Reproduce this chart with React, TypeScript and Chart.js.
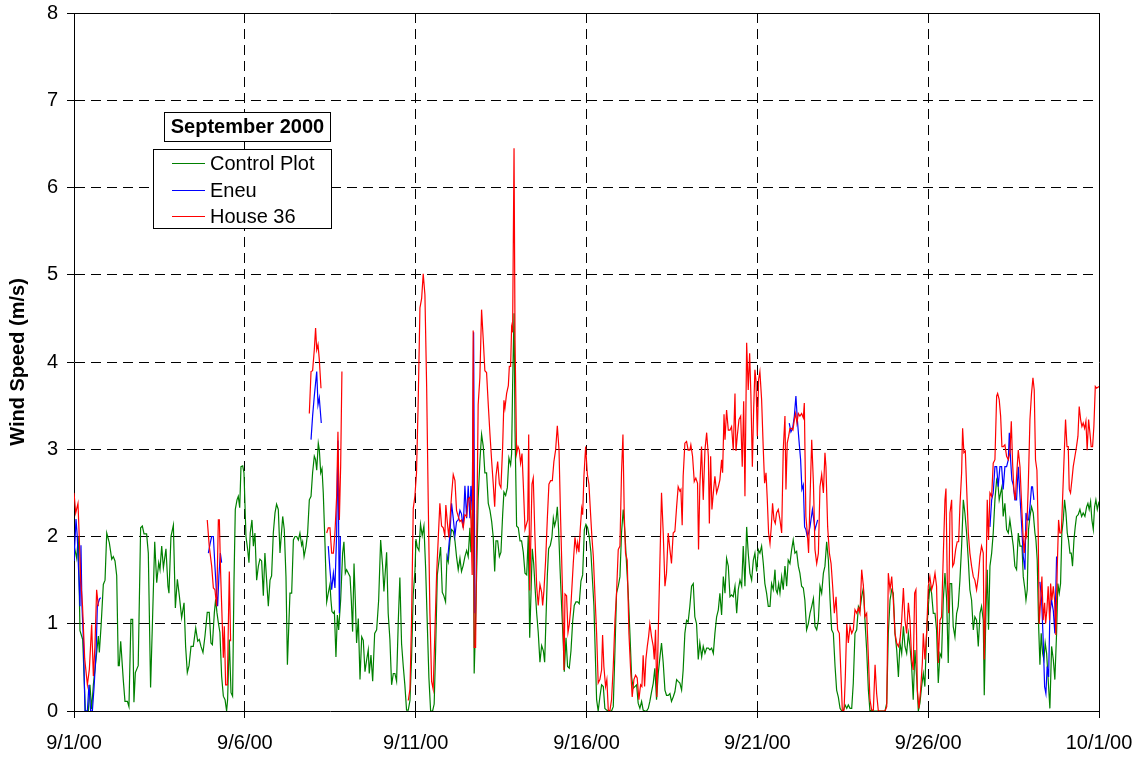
import React, { useEffect, useRef } from "react";
import { Chart, registerables } from "chart.js";

Chart.register(...registerables);

type Pt = [number, number | null];

// x values are hours since 9/1/00 00:00
const dateLabels = ["9/1/00", "9/6/00", "9/11/00", "9/16/00", "9/21/00", "9/26/00", "10/1/00"];
const yTicks = [0, 1, 2, 3, 4, 5, 6, 7, 8];
const seriesNames = ["Control Plot", "Eneu", "House 36"];
const seriesColors = ["#008000", "#0000FF", "#FF0000"];
const chartTitle = "September 2000";
const yTitle = "Wind Speed (m/s)";

const controlPlot: Pt[] = [
  [0,1.9],[1.9,1.75],[3,2.0],[4.2,0.92],[6.1,0.82],[8,0],[10.1,0],[11.2,0.3],[12.4,0.02],[13.6,0.3],[15.5,0.6],[17.1,0.86],[17.8,0.67],[19,0.97],[20.6,1.45],[21.8,1.5],[23,2.04],[24.8,1.93],[26.5,1.74],[27.6,1.77],[28.8,1.72],[30,1.55],[31.1,0.52],[31.8,0.52],[32.8,0.8],[34.6,0.36],[35.8,0.11],[37.5,0.11],[38.6,0.05],[40,1.05],[41.2,1.05],[42.1,0.1],[43.1,0.44],[45.1,0.52],[46.8,2.1],[48,2.12],[49.2,2.03],[51,2.03],[52.2,1.81],[53.8,0.27],[55.3,1.13],[56.7,1.94],[58.1,1.47],[59.5,1.7],[60.4,1.62],[61.6,1.89],[62.8,1.64],[64.6,1.86],[66,1.43],[66.7,1.35],[68.1,2.0],[69.8,2.13],[71.2,1.18],[72.6,1.51],[74,1.32],
  [75.6,1.07],[77.3,1.24],[78.4,0.74],[79.6,0.44],[80.8,0.52],[82.2,0.74],[83.8,0.74],[85.5,0.95],[86.9,0.8],[88,0.82],[89.2,0.74],[90.6,0.67],[92,0.86],[93.6,1.13],[95,1.13],[96.2,0.78],[97.2,0.76],[98.6,1.13],[99.5,1.28],[100.4,1.13],[101.4,1.01],[102.5,0.9],[103.7,0.4],[104.9,0.17],[106.1,0.13],[107.2,0],[107.9,0.13],[109.1,0.82],[110.3,0.21],[111.4,0.17],[112.4,1.5],[113.3,2.31],[114.5,2.42],[115.4,2.46],[116.4,2.33],[117.3,2.8],[118.5,2.81],[119.4,2.73],[120.8,2.0],[122,1.85],[122.9,1.7],[123.8,2.04],[125,2.19],[126,1.89],[127.1,2.04],[128.3,1.5],[129.5,1.66],[130.6,1.74],[131.8,1.72],[133,1.32],[134.1,1.81],[135.3,1.5],[136.5,1.2],[137.7,1.5],[138.8,1.55],[140,2.04],[141.2,2.27],[142.3,2.37],[143.5,2.31],[144.7,1.81],
  [146.6,2.23],[147.7,2.08],[148.9,1.54],[149.9,0.53],[151.7,1.35],[152.9,1.35],[154.1,1.96],[155.2,2.0],[156.4,2.0],[157.6,1.96],[158.7,2.04],[159.9,1.9],[160.6,1.94],[161.6,1.77],[163,1.89],[164.1,2.04],[165.3,2.42],[166.5,2.46],[167.6,2.73],[168.8,2.92],[169.7,2.88],[170.5,2.76],[171.6,3.07],[172.3,3.0],[173.3,2.73],[174.2,2.78],[175.1,2.5],[176.3,1.92],[177.5,1.25],[178.6,1.35],[179.8,1.45],[180.5,1.27],[181.2,1.14],[182.2,1.12],[182.9,1.14],[184,0.62],[185,1.1],[185.9,0.93],[187.3,1.27],[188.7,1.81],[189.6,1.94],[190.6,1.58],[191.5,1.62],[192.7,1.58],[193.9,1.54],[194.8,1.27],[195.7,0.91],[196.7,1.69],[197.6,1.27],[198.5,0.78],[199.7,1.06],[200.9,0.36],[202.1,0.85],[203.2,0.81],[204.4,0.45],[205.6,0.59],[206.7,0.7],[207.4,0.43],[208.6,0.64],[209.8,0.34],[211.2,0.89],[212.6,0.93],[214,1.27],[215.4,1.96],[216.8,1.66],[217.7,1.37],
  [219.6,1.82],[220.7,1.12],[221.9,0.82],[223.1,0.3],[224.3,0.43],[225.4,0.43],[226.6,0.34],[227.8,1.03],[228.9,1.53],[230.1,0.77],[231.3,0.51],[232.4,0.3],[233.6,0.01],[234.8,0.01],[236,0.12],[237.1,0.6],[238.3,1.34],[239.5,1.6],[240.2,1.97],[241.1,1.88],[242.3,1.84],[243.4,2.14],[244.6,2.01],[245.8,2.12],[247,1.64],[248.1,1.03],[249.3,0.38],[250.5,0],[251.9,0],[253,0.08],[254,0.69],[255.2,1.56],[256.3,1.71],[257.5,1.88],[258.7,1.36],[259.8,1.32],[261,1.25],[262,1.77],[262.9,1.71],[264.1,1.95],[265.2,2.08],[266.4,2.06],[267.6,1.95],[268.7,1.77],[269.9,1.62],[271.1,1.75],[272.2,1.6],[273.4,1.67],[274.6,1.77],[275.8,1.84],[276.9,1.77],[278.1,2.1],[278.8,1.82],[279.7,2.25],[280.4,2.86],[281.1,0.43],[281.8,0.84],[282.8,1.56],[283.9,2.43],[285.1,2.86],[286.3,3.17],[287.5,3.03],[288.6,2.73],[289.8,2.73],[291,2.38],
  [292.2,2.3],[293.4,2.17],[294.5,1.99],[295.5,1.6],[296.4,1.95],[297.6,1.95],[298.8,1.77],[299.9,1.82],[301.1,2.25],[302,2.51],[303.2,2.47],[304.4,2.56],[305.5,2.9],[306.7,2.82],[307.4,2.95],[308.1,3.73],[309.1,4.56],[309.8,3.21],[310.9,2.12],[312.1,2.1],[313.3,1.95],[314.4,1.95],[315.6,1.82],[316.8,1.58],[318,1.56],[319.1,2.01],[320.1,0.84],[321,1.34],[321.9,1.86],[322.9,1.69],[324,1.38],[325,1.12],[326.1,0.9],[327.3,0.56],[328.5,0.75],[329.7,0.69],[330.6,0.56],[331.5,1.03],[332.5,1.56],[333.4,1.86],[334.6,1.9],[335.7,1.99],[336.7,2.21],[337.6,2.12],[338.6,2.19],[339.5,2.34],[340.4,2.08],[341.4,1.64],[342.5,1.21],[343.7,0.77],[344.4,0.45],[345.6,0.84],[346.7,0.51],[347.9,0.49],[349.1,0.69],[350.3,1.03],[351.4,1.21],[352.6,1.25],[353.8,1.25],[354.9,1.23],[356.1,1.49],[357.3,1.56],[358.5,2.08],[359.6,2.14],[360.8,2.1],[362,1.99],[363.1,1.82],[364.3,1.47],[365.2,1.21],
  [367.1,0.13],[368.2,0],[369.4,0.16],[370.6,0.3],[371.8,0.28],[372.9,0.03],[374.1,0.01],[375.3,0],[376.4,0],[377.6,0],[378.8,0.05],[380,0.7],[381.1,1.35],[382.3,1.43],[383.5,1.54],[384.6,2.04],[385.8,2.31],[387,2.04],[388.1,1.69],[389.3,1.35],[390.5,0.89],[391.7,0.39],[392.8,0.26],[394,0.28],[395.2,0.3],[396.3,0.09],[397.5,0.03],[398.7,0.11],[399.8,0.01],[401,0],[402.2,0],[403.4,0.03],[404.5,0.11],[405.7,0.22],[406.9,0.32],[408,0.49],[409.2,0.13],[410.4,0.43],[411.6,0.62],[412.7,0.78],[413.9,0.55],[415.1,0.24],[416.2,0.18],[417.4,0.18],[418.6,0.2],[419.7,0.11],[420.9,0.16],[422.1,0.22],[423.3,0.36],[424.4,0.34],[425.6,0.32],[426.8,0.24],[427.9,0.47],[429.1,0.89],[430.3,1.04],[431.4,1.02],[432.6,1.2],[433.8,1.43],[435,1.46],[436.1,1.08],[437.3,1.0],[438.5,0.59],[439.6,0.78],
  [440.9,0.62],[442,0.74],[443.2,0.66],[444.4,0.72],[445.6,0.72],[446.7,0.7],[447.9,0.72],[449.1,0.66],[450.2,0.89],[451.4,1.08],[452.6,1.16],[453.7,1.35],[454.9,1.1],[456.1,1.54],[457.3,1.35],[458.4,1.75],[459.6,1.66],[460.8,1.31],[461.9,1.33],[463.1,1.31],[464.3,1.43],[465.5,1.12],[466.6,1.39],[467.8,1.5],[469,1.43],[470.1,1.89],[471.3,1.43],[472.5,2.11],[473.6,1.81],[474.8,1.58],[476,1.5],[477.2,1.73],[478.3,1.81],[479.5,1.6],[480.7,1.85],[481.8,1.81],[483,1.89],[484.2,1.69],[485.3,1.46],[486.5,1.35],[487.7,1.2],[488.9,1.2],[490,1.46],[491.2,1.39],[492.4,1.62],[493.1,1.39],[494,1.35],[495,1.46],[495.9,1.35],[497.1,1.54],[498.2,1.39],[499.4,1.66],[500.6,1.43],[501.7,1.73],[502.9,1.69],[504.1,1.85],[505.2,1.96],[506.4,1.81],[507.6,1.83],[508.8,1.66],[509.9,1.58],[511.1,1.43],[512.3,1.41],[513.4,1.27],[514.6,0.93],[515.8,1.0],
  [517,1.12],[518.2,1.2],[519.4,1.29],[520.5,0.97],[521.7,0.93],[522.9,1.04],[524,1.43],[525.2,1.35],[526.4,1.58],[527.5,1.66],[528.7,1.94],[529.9,1.73],[531.1,1.27],[532.2,0.93],[533.4,0.89],[534.6,0.51],[535.7,0.24],[536.9,0.16],[538.1,0.03],[539.3,0],[540.4,0],[541.6,0.07],[542.8,0.03],[543.9,0.07],[545.1,0.03],[546.3,0.03],[547.4,0.32],[548.6,0.89],[549.8,0.93],[551,1.2],[552.1,1.16],[553.3,1.31],[554.5,1.41],[555.6,1.04],[556.8,0.7],[558,0.24],[559.1,0],[560.3,0.01],[561.5,0],[565,0],[569.7,0],[570.9,0.09],[572,0.89],[573.2,1.27],[574.4,1.39],[575.5,1.35],[576.7,0.89],[577.9,0.7],[579.1,0.39],[580.2,0.78],[581.4,0.66],[582.6,0.97],[583.7,0.74],[584.9,0.66],[586.1,0.89],[587.2,0.74],[588.4,0.51],
  [589.5,0.13],[590.7,0.7],[591.9,0.39],[593.1,0],[594.2,0.09],[595.4,0.28],[596.6,0.43],[597.7,0.28],[598.9,0.89],[600.1,1.2],[601.2,1.43],[602.4,1.35],[603.6,1.12],[604.8,1.12],[605.9,0.93],[607.1,0.32],[608.3,0.66],[609.4,0.62],[610.6,1.27],[611.8,1.58],[613,1.27],[614.1,0.55],[615.3,1.46],[616.5,1.46],[617.6,0.97],[618.8,0.85],[620,1.12],[621.1,1.2],[622.3,1.5],[623.5,1.89],[624.7,2.42],[625.8,2.27],[627,2.04],[628.2,1.73],[629.3,1.39],[630.5,1.27],[631.7,0.93],[632.8,1.08],[634,1.04],[635.2,0.74],[636.4,1.12],[637.5,1.2],[638.7,1.04],[639.4,0.18],[640.6,1.16],[641.5,1.62],[642.4,0.93],[643.4,1.66],[644.6,1.81],[645.7,2.04],[646.9,2.42],[648.1,2.65],[649,2.61],[649.9,2.42],[650.9,2.5],[651.8,2.57],[652.7,2.23],[653.9,2.38],[655.1,2.08],[656.3,2.04],[657.4,2.19],[658.6,2.04],[659.8,1.89],[660.9,1.66],[662.1,1.62],[663.3,2.04],[664.5,1.89],
  [665.9,1.89],[666.8,1.54],[668,1.39],[668.7,1.27],[669.6,1.39],[670.5,2.08],[671.5,2.23],[672.6,2.34],[673.8,2.27],[675,2.04],[675.7,1.96],[676.6,1.73],[677.6,0.97],[678.5,0.53],[679.4,0.89],[680.4,0.66],[681.3,0.59],[682.2,0.78],[683.2,0.66],[684.3,0.36],[685.5,0.03],[686.7,0.74],[687.9,0.59],[689,0.36],[690.2,0.89],[691.1,1.46],[692.1,1.35],[693,1.46],[693.9,2.04],[694.9,2.19],[695.8,2.42],[696.8,2.27],[697.7,2.04],[698.6,1.96],[699.6,1.81],[700.5,1.81],[701.4,1.66],[702.4,1.96],[703.3,2.11],[704.2,2.23],[705.4,2.25],[706.6,2.31],[707.8,2.23],[708.9,2.27],[710.1,2.23],[711.3,2.34],[712.2,2.38],[713.1,2.31],[714.1,2.4],[715,2.19],[716,2.08],[716.9,2.34],[717.8,2.42],[718.8,2.31],[720,2.4]
];

const eneu: Pt[] = [
  [0,1.72],[1.4,2.2],[2.3,2.0],[3.5,1.5],[4.2,1.2],[4.9,1.9],[5.6,1.2],[6.6,0.82],[7.7,0],[9.4,0],[10.5,0.3],[11.7,0],[12.9,0],[14,0.25],[15.5,0.67],[16.4,1.2],[17.8,1.28],[18.7,1.3],
  [50,null],
  [94.4,1.81],[95.5,1.91],[96.7,2.0],[97.9,2.0],[99,1.66],[100.2,1.32],[100.9,1.2],[101.8,1.55],[102.8,1.81],[103.7,1.7],
  [130,null],
  [166.5,3.11],[167.6,3.38],[168.8,3.61],[170.5,3.89],[171.4,3.51],[172.3,3.59],[173.7,3.3],
  [176,null],
  [178.6,1.89],[179.8,1.62],[181,1.39],[182.2,1.58],[183.3,1.41],[184.5,2.04],[185.4,3.1],[186.4,1.12],[187.1,2.0],
  [220,null],
  [262.4,1.73],[264.1,2.03],[265.2,2.38],[266.4,2.21],[267.6,2.01],[268.7,2.17],[269.9,2.19],[271.1,2.3],[272.2,2.26],[273.4,2.1],[274.6,2.58],[275.8,2.21],[276.9,2.58],[278.1,2.21],[278.8,2.58],[279.7,2.3],[280.7,4.34],[281.6,1.12],
  [400,null],
  [502.4,3.3],[503.6,3.2],[504.8,3.24],[506,3.38],[507.1,3.61],[508.1,3.34],[509.2,3.11],[510.4,2.88],[511.3,2.54],[512.3,2.59],[513.2,2.11],[514.1,2.08],[515.1,2.0],[516,2.04],[517,2.11],[518.7,2.31],[520.5,2.08],[522.4,2.19],
  [600,null],
  [643.4,2.11],[644.6,2.42],[645.7,2.5],[646.9,2.8],[648.1,2.8],[649.2,2.57],[650.4,2.8],[651.6,2.8],[652.7,2.54],[653.9,2.8],[655.1,2.8],[656.3,2.88],[657,3.19],[657.9,2.88],[658.8,2.65],[659.8,2.59],[660.9,2.42],[662.1,2.42],[663.3,2.8],[665.6,2.15],[666.8,1.77],[668,1.62],[668.7,2.27],[669.6,2.19],[670.5,2.19],[671.5,2.34],[672.6,2.57],[673.3,2.57],[674.3,2.42],
  [676,null],
  [678.5,1.48],[679.7,1.27],[680.8,0.81],[681.8,0.28],[682.7,0.2],[683.6,0.51],[684.6,0.39],[685.5,1.12],[686.7,1.27],[687.9,1.15],[689,0.89],[690.2,1.77]
];

const house36: Pt[] = [
  [0,2.5],[1.2,2.27],[2.8,2.38],[3.5,2.08],[4.7,1.5],[6,1.2],[7.5,0.6],[9.4,0.3],[10.8,0.48],[12.4,0.99],[13.6,0.4],[14.7,0.74],[15.9,1.39],[17.1,1.2],
  [50,null],
  [93.6,2.19],[95,1.89],[96.7,1.66],[97.9,1.41],[99,1.39],[100.2,1.2],[101.4,2.19],[102.1,2.19],[103,1.58],[104.2,0.97],[104.9,0.61],[105.6,0.97],[106.5,0.3],[107.7,0.3],[108.4,0.97],[109.1,1.6],[110,0.8],
  [130,null],
  [165.3,3.41],[166.5,3.89],[167.6,3.9],[168.8,4.14],[169.7,4.39],[170.5,4.14],[171.4,4.2],[172.3,4.03],[173.5,3.7],
  [175,null],
  [177.5,2.04],[178.6,2.1],[179.8,2.1],[181,1.81],[182.2,1.81],[183.3,2.04],[184.5,2.46],[185.4,3.2],[186.4,2.19],[187.3,2.8],[188.2,3.89],
  [210,null],
  [234.8,0.12],[236,0.25],[237.1,1.03],[238.3,2.32],[239.5,2.47],[240.6,2.73],[241.8,3.56],[243,4.62],[244.2,4.73],[245.3,5.01],[246.5,4.77],[247.7,3.73],[248.8,2.43],[250,1.12],[251.2,0.34],[252.3,0.25],[253.5,0.9],[254.7,1.56],[255.9,1.99],[257,2.38],[258.2,2.12],[259.4,2.1],[260.5,2.01],[261.2,2.36],[262.2,2.17],[263.3,1.99],[264,2.17],[265.2,2.47],[266.4,2.71],[267.6,2.64],[268.7,2.3],[269.9,2.23],[271.1,2.17],[272.2,2.19],[273.4,2.1],[274.6,2.25],[275.8,2.23],[276.9,2.43],[278.1,2.45],[278.8,2.2],[279.7,1.56],[280.4,4.36],[281.1,0.73],[282.1,0.73],[283,2.17],[283.9,3.51],[285.1,3.82],[286.3,4.6],[287.5,4.25],[288.6,3.9],[289.8,3.88],[291,3.51],
  [292.2,3.17],[293.4,2.86],[294.5,2.6],[295.5,2.34],[296.4,2.69],[297.6,2.86],[298.8,2.6],[299.9,2.56],[301.1,3.03],[302,3.56],[302.7,3.47],[303.9,3.64],[305.1,3.73],[305.8,3.95],[306.7,3.95],[307.4,4.4],[308.1,4.34],[309.1,6.45],[309.8,4.25],[310.9,2.95],[311.9,3.03],[312.8,2.99],[313.7,2.84],[314.7,2.95],[315.6,2.6],[316.8,2.08],[317.5,2.08],[318.7,2.19],[319.4,3.17],[320.1,1.38],[320.8,1.9],[321.7,2.6],[322.6,2.67],[323.8,1.99],[325,1.43],[326.1,1.21],[327.3,1.45],[328.5,1.36],[329.2,1.21],[330.1,1.38],[331.3,1.73],[332.5,2.21],[333.6,2.6],[334.8,2.64],[336,2.64],[337.1,2.86],[338.3,2.99],[339.5,3.27],[340.7,2.99],[341.8,2.21],[343.2,1.34],[344.2,0.47],[344.9,1.34],[346,1.32],[347,0.9],[347.9,0.99],[348.9,1.17],[349.8,1.43],[350.7,1.69],[351.9,1.99],[353.1,1.84],[353.8,1.93],[354.7,1.82],[355.6,2.08],[356.6,2.32],[357.3,2.25],[358.2,2.69],[359.4,3.03],[360.6,2.71],[361.7,2.6],[362.9,2.25],[363.8,1.99],[364.8,1.77],[365.9,1.34],
  [367.1,0.89],[368.2,0.32],[369.4,0.36],[370.6,0.47],[371.3,0.87],[372.2,0.51],[373.4,0.28],[374.3,0.36],[375.3,0.01],[376.4,0],[377.6,0.13],[378.8,0.51],[380,1.04],[381.1,1.35],[382.3,1.85],[383.5,1.89],[384.6,2.73],[385.6,3.17],[386.5,2.27],[387.4,1.81],[388.6,1.73],[389.8,0.89],[391,0.47],[392.1,0.16],[393.3,0.36],[394.5,0.41],[395.6,0.38],[396.8,0.13],[398,0.3],[398.9,0.28],[399.8,0.64],[400.8,0.28],[401.7,0.59],[402.7,0.74],[403.6,0.85],[404.5,1.0],[405.7,0.85],[406.9,0.74],[407.6,0.59],[408.5,0.93],[409.4,0.16],[410.4,0.89],[411.6,1.73],[412.7,2.5],[413.9,2.04],[415.1,1.43],[416.2,1.58],[417.4,2.04],[418.6,1.85],[419.7,1.69],[420.9,2.04],[422.1,2.06],[423.3,2.34],[424.4,2.57],[425.6,2.52],[426.3,2.54],[427.2,2.13],[427.9,2.69],[429.1,3.07],[430.3,3.09],[431.4,2.99],[432.6,2.99],[433.3,3.05],[434.5,2.92],[435.7,2.63],[436.8,2.67],[438,2.61],[438.7,1.85],[439.6,2.57],[440.8,3.03],[442,2.42],
  [443.2,2.99],[444.4,3.19],[445.6,2.92],[446.3,2.15],[447.2,2.92],[448.1,2.31],[449.1,2.5],[450.2,2.69],[451.4,2.5],[452.6,2.57],[453.7,2.65],[454.9,2.88],[455.6,2.73],[456.6,3.4],[457.3,3.11],[458.4,3.45],[459.6,3.22],[460.8,3.22],[461.9,3.26],[463.1,2.99],[464.3,3.64],[465,2.98],[465.9,3.15],[467.1,3.34],[468.3,3.38],[469.4,2.8],[470.4,3.55],[471.3,2.46],[472.5,4.22],[473.6,3.68],[474.6,4.1],[475.5,3.61],[476.5,2.8],[477.4,3.45],[478.3,3.91],[479,3.8],[480,3.15],[480.9,3.8],[481.8,3.89],[483,3.57],[484.2,2.99],[485.1,2.61],[486.1,2.73],[487,2.42],[487.9,2.04],[488.9,1.92],[489.8,2.11],[490.7,2.38],[491.7,2.19],[492.6,2.15],[493.5,2.27],[494.7,2.31],[495.9,2.19],[497.1,2.04],[498.2,2.99],[499.4,3.38],[500.1,2.54],[501,3.07],[502,3.15],[502.9,3.24],[504.1,3.24],[505,3.22],[506,3.34],[506.9,3.41],[507.8,3.3],[508.8,3.41],[509.9,3.38],[511.1,3.41],[512.3,3.36],[513,3.53],[514.1,2.23],[515.1,2.04],[516,1.81],
  [517,2.42],[518.2,3.11],[519.4,2.61],[520.5,1.85],[521.7,1.69],[522.9,1.81],[524,2.57],[525.2,2.71],[526.4,2.5],[527.5,2.96],[528.2,2.8],[529.4,2.11],[530.6,1.81],[531.8,1.69],[532.9,1.43],[534.1,1.12],[535.3,1.31],[536.4,0.93],[537.6,0.89],[538.8,0.39],[539.7,0],[540.9,0.01],[541.8,0.39],[542.8,1.0],[543.9,0.78],[545.1,0.97],[546.3,0.89],[547.4,0.93],[548.6,1.16],[549.8,1.12],[551,1.18],[552.1,1.12],[553.3,1.62],[554.5,1.43],[555.6,1.08],[556.8,1.12],[558,0.62],[559.1,0.13],[560.3,0.01],[561.5,0.01],[562.7,0.53],[563.8,0.2],[565,0],[567.3,0],[569.7,0],[570.9,0.05],[572,1.58],[573.2,1.39],[574.4,1.54],[575.5,1.27],[576.7,0.89],[577.9,0.78],[579.1,0.74],[580.2,0.81],[581.4,1.04],[582.6,1.41],[583.7,1.04],[584.9,0.89],[586.1,1.24],[587.2,1.04],[588.4,0.59],
  [589.5,0.47],[590.5,1.35],[591.4,1.39],[592.4,0.24],[593.5,0.03],[594.7,0.24],[595.9,0.55],[596.6,0.89],[597.7,0.59],[598.9,0.89],[600.1,1.43],[601.2,1.54],[602.4,1.39],[603.6,1.46],[604.8,1.58],[605.9,1.43],[607.1,0.55],[608.3,1.04],[609.4,1.08],[610.6,1.77],[611.8,2.42],[612.5,2.55],[613.4,1.5],[614.4,1.12],[615.3,2.27],[616.5,2.42],[617.2,1.66],[618.1,1.69],[619.3,1.85],[620.4,1.94],[621.4,1.94],[622.3,2.34],[623.5,2.73],[624.2,3.24],[625.1,2.96],[626.1,2.98],[627,2.57],[628.2,2.04],[629.3,1.81],[630.5,1.66],[631.7,1.54],[632.8,1.5],[634,1.39],[635.2,1.54],[636.4,1.77],[637.5,1.89],[638.7,1.81],[639.4,0.59],[640.6,1.46],[641.5,2.42],[642.4,1.96],[643.4,2.5],[644.6,2.46],[645.7,2.84],[646.9,2.88],[648.1,3.61],[648.8,3.64],[649.9,3.57],[650.9,3.38],[651.8,3.03],[652.7,3.03],[653.9,3.05],[655.1,2.92],[656.3,2.88],[657.4,2.96],[658.4,3.32],[659.3,2.84],[660.2,2.54],[661.2,2.42],[662.1,2.69],[663.3,2.99],[664.5,2.8],
  [665.9,2.27],[666.8,1.96],[667.5,1.81],[668.4,2.04],[669.1,2.0],[670.3,2.57],[671.5,3.34],[672.6,3.64],[673.6,3.82],[674.5,3.68],[675.4,2.88],[676.4,2.76],[677.3,2.04],[678,1.0],[679,1.27],[679.9,1.54],[680.8,1.04],[681.8,1.24],[682.5,1.0],[683.4,1.16],[684.3,1.43],[685.3,1.04],[686,1.46],[686.9,1.27],[687.9,1.43],[688.8,1.27],[689.7,0.87],[690.7,1.66],[691.6,2.19],[692.5,2.04],[693.5,2.04],[694.4,2.42],[695.6,2.96],[696.5,3.34],[697.5,3.03],[698.4,3.03],[699.1,2.54],[700,2.5],[701,2.65],[701.9,2.8],[703.1,2.92],[704.2,3.03],[705.2,3.15],[706.1,3.49],[707.1,3.34],[708,3.26],[708.9,3.3],[709.9,3.24],[710.8,3.32],[711.7,2.99],[712.7,3.34],[713.6,3.19],[714.5,3.03],[715.5,3.03],[716.4,3.26],[717.4,3.72],[718.3,3.7],[720,3.72]
];

const FONT = "'Liberation Sans', Arial, Helvetica, sans-serif";

const toXY = (arr: Pt[]) => arr.map(([x, y]) => ({ x, y }));

const plotBorder = {
  id: "plotBorder",
  afterDraw(chart: any) {
    const { ctx, chartArea } = chart;
    const l = Math.round(chartArea.left) + 0.5;
    const t = Math.round(chartArea.top) + 0.5;
    const r = Math.round(chartArea.right) + 0.5;
    const b = Math.round(chartArea.bottom) + 0.5;
    ctx.save();
    ctx.strokeStyle = "#000";
    ctx.lineWidth = 1;
    ctx.setLineDash([]);
    ctx.beginPath();
    ctx.moveTo(l, t);
    ctx.lineTo(r, t);
    ctx.lineTo(r, b);
    ctx.stroke();
    ctx.restore();
  },
};

export default function App() {
  const canvasRef = useRef<HTMLCanvasElement | null>(null);

  useEffect(() => {
    const canvas = canvasRef.current;
    if (!canvas) return;
    const allSeries = [controlPlot, eneu, house36];
    const chart = new Chart(canvas, {
      type: "line",
      data: {
        datasets: allSeries.map((s, i) => ({
          label: seriesNames[i],
          data: toXY(s),
          borderColor: seriesColors[i],
          backgroundColor: seriesColors[i],
          borderWidth: 1.2,
          pointRadius: 0,
          tension: 0,
          spanGaps: false,
          order: 2 - i,
        })),
      },
      options: {
        responsive: false,
        animation: false,
        events: [],
        layout: { padding: { top: 13, right: 40, left: 0, bottom: 0 } },
        plugins: { legend: { display: false }, tooltip: { enabled: false }, title: { display: false } },
        scales: {
          x: {
            type: "linear",
            min: 0,
            max: 720,
            afterFit: (s: any) => { s.height = 46; s.paddingLeft = 0; s.paddingRight = 0; },
            afterBuildTicks: (s: any) => { s.ticks = dateLabels.map((_, i) => ({ value: i * 120 })); },
            ticks: {
              autoSkip: false,
              maxRotation: 0,
              padding: 13,
              color: "#000",
              font: { family: FONT, size: 20 },
              callback: (v: any) => dateLabels[Math.round(Number(v) / 120)] ?? "",
            },
            grid: { color: "#000", lineWidth: 1, drawTicks: true, tickLength: 7, tickColor: "#000", tickBorderDash: [] },
            border: { display: true, color: "#000", width: 1, dash: [10, 6] },
          },
          y: {
            type: "linear",
            min: 0,
            max: 8,
            afterFit: (s: any) => { s.width = 74; s.paddingTop = 0; s.paddingBottom = 0; },
            afterBuildTicks: (s: any) => { s.ticks = yTicks.map((v) => ({ value: v })); },
            ticks: {
              padding: 9,
              color: "#000",
              font: { family: FONT, size: 20 },
              callback: (v: any) => String(v),
            },
            title: {
              display: true,
              text: yTitle,
              color: "#000",
              font: { family: FONT, size: 20, weight: "bold" },
              padding: { top: 6, bottom: 0 },
            },
            grid: { color: "#000", lineWidth: 1, drawTicks: true, tickLength: 7, tickColor: "#000", tickBorderDash: [] },
            border: { display: true, color: "#000", width: 1, dash: [10, 6] },
          },
        },
      },
      plugins: [plotBorder],
    } as any);
    return () => chart.destroy();
  }, []);

  const rowTops = [153, 179.5, 205.5];
  const rowLines = [163.5, 190, 216.5];

  return (
    <div style={{ position: "fixed", left: 0, top: 0, width: 1139, height: 757, background: "#fff", overflow: "hidden" }}>
      <canvas ref={canvasRef} width={1139} height={757} style={{ position: "absolute", left: 0, top: 0, width: 1139, height: 757 }} />
      <div style={{ position: "absolute", left: 164, top: 112, width: 165, height: 28, border: "1px solid #000", background: "#fff" }} />
      <div style={{ position: "absolute", left: 164, top: 116, width: 167, textAlign: "center", fontFamily: FONT, fontWeight: "bold", fontSize: 20, lineHeight: "20px", color: "#000", whiteSpace: "nowrap" }}>
        {chartTitle}
      </div>
      <div style={{ position: "absolute", left: 153, top: 149, width: 177, height: 78, border: "1px solid #000", background: "#fff" }} />
      {seriesNames.map((name, i) => (
        <React.Fragment key={name}>
          <div style={{ position: "absolute", left: 172, top: rowLines[i] - 0.5, width: 33, height: 1, background: seriesColors[i] }} />
          <div style={{ position: "absolute", left: 210, top: rowTops[i], fontFamily: FONT, fontSize: 20, lineHeight: "20px", color: "#000", whiteSpace: "nowrap" }}>
            {name}
          </div>
        </React.Fragment>
      ))}
    </div>
  );
}
